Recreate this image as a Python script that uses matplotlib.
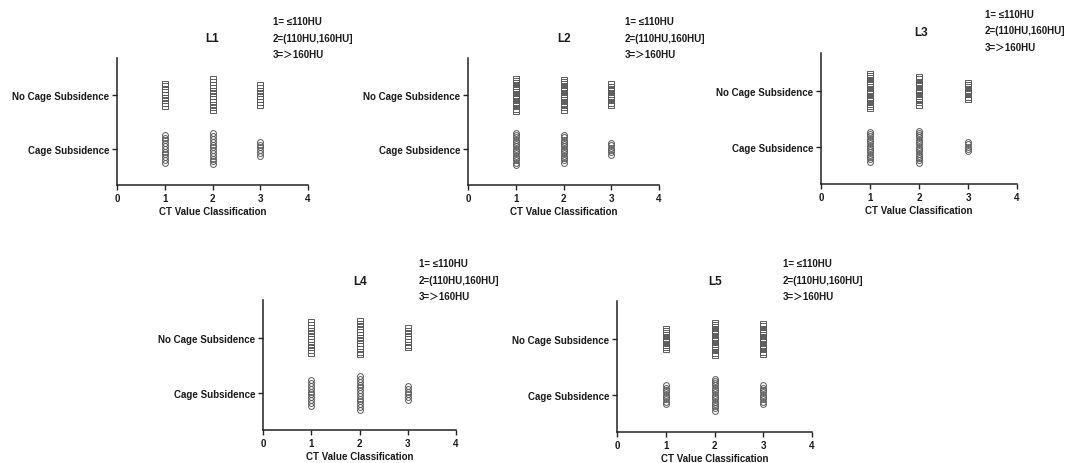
import matplotlib
matplotlib.use('Agg')
import matplotlib.pyplot as plt
import numpy as np

W, H = 1066, 464
DPI = 100

# ---------------- data ----------------
panel_names = ['L1', 'L2', 'L3', 'L4', 'L5']
ct_classes = [1, 2, 3]
x_ticks = [0, 1, 2, 3, 4]
outcome_labels = ['Cage Subsidence', 'No Cage Subsidence']
legend_lines = ['1= \u2264110HU', '2=(110HU,160HU]', '3=\uff1e160HU']
x_label = 'CT Value Classification'

# number of patients in CT class 1, 2, 3
L1_no_subsidence = [9, 12, 8]
L1_subsidence = [11, 12, 6]
L2_no_subsidence = [15, 14, 10]
L2_subsidence = [15, 13, 6]
L3_no_subsidence = [16, 13, 8]
L3_subsidence = [14, 15, 5]
L4_no_subsidence = [12, 13, 8]
L4_subsidence = [10, 13, 6]
L5_no_subsidence = [10, 15, 14]
L5_subsidence = [9, 15, 9]

data = {
    'L1': (L1_subsidence, L1_no_subsidence),
    'L2': (L2_subsidence, L2_no_subsidence),
    'L3': (L3_subsidence, L3_no_subsidence),
    'L4': (L4_subsidence, L4_no_subsidence),
    'L5': (L5_subsidence, L5_no_subsidence),
}

# ---------------- layout / style ----------------
# axes boxes in pixels: left, right, top, bottom
boxes = {
    'L1': (117, 308, 59, 186),
    'L2': (468, 659, 59, 186),
    'L3': (821, 1017, 54, 185),
    'L4': (263, 456, 301, 431),
    'L5': (617, 812, 302, 433),
}
# point spacing (pixels) used to spread identical values
steps = {'L1': 2.8, 'L2': 2.3, 'L3': 2.3, 'L4': 2.8, 'L5': 2.3}
title_pos = {'L1': (212, 39), 'L2': (564, 39), 'L3': (921, 33),
             'L4': (360, 282), 'L5': (715, 282)}
legend_pos = {'L1': (273, 22), 'L2': (625, 22), 'L3': (985, 15),
              'L4': (419, 264), 'L5': (783, 264)}
legend_dy = 16.5

FAM = ['Liberation Sans', 'Noto Sans CJK SC', 'DejaVu Sans']
plt.rcParams['font.family'] = FAM
TXT = '#1a1a1a'
EDGE = '#5a5a5a'
YLIM = (-0.67, 1.68)

fig = plt.figure(figsize=(W / DPI, H / DPI), dpi=DPI)
fig.patch.set_facecolor('white')


def px(x, y):
    return x / W, 1 - y / H


for name in panel_names:
    l, r, t, b = boxes[name]
    ax = fig.add_axes([l / W, 1 - b / H, (r - l) / W, (b - t) / H])
    ax.set_xlim(0, 4)
    ax.set_ylim(*YLIM)
    unit_px = (b - t) / (YLIM[1] - YLIM[0])
    step = steps[name] / unit_px
    sub, nosub = data[name]
    for yi, counts, marker, ms in ((0, sub, 'o', 4.2), (1, nosub, 's', 4.0)):
        for xc, n in zip(ct_classes, counts):
            offs = (np.arange(n) - (n - 1) / 2) * step
            ax.plot(np.full(n, xc), yi + offs, linestyle='none', marker=marker,
                    markersize=ms, markerfacecolor='none',
                    markeredgecolor=EDGE, markeredgewidth=0.7)
    for s in ('top', 'right'):
        ax.spines[s].set_visible(False)
    for s in ('left', 'bottom'):
        ax.spines[s].set_linewidth(1.1)
        ax.spines[s].set_color('#222222')
    ax.set_xticks(x_ticks)
    ax.set_xticklabels([str(v) for v in x_ticks])
    ax.set_yticks([0, 1])
    ax.set_yticklabels(outcome_labels)
    ax.tick_params(axis='both', direction='out', length=3.5, width=1.0,
                   color='#222222', labelsize=7, labelcolor=TXT, pad=2)
    ax.tick_params(axis='x', pad=2.5)
    for lab in ax.get_xticklabels() + ax.get_yticklabels():
        lab.set_fontweight('bold')
    ax.set_xlabel(x_label, fontsize=7, fontweight='bold', color=TXT, labelpad=2)

    tx, ty = title_pos[name]
    fig.text(*px(tx, ty), name, ha='center', va='center', fontsize=8.5,
             fontweight='bold', color=TXT)
    lx, ly = legend_pos[name]
    for i, line in enumerate(legend_lines):
        fig.text(*px(lx, ly + i * legend_dy), line, ha='left', va='center',
                 fontsize=7, fontweight='bold', color=TXT, family=FAM)

fig.savefig('out.png', dpi=DPI, facecolor='white')
